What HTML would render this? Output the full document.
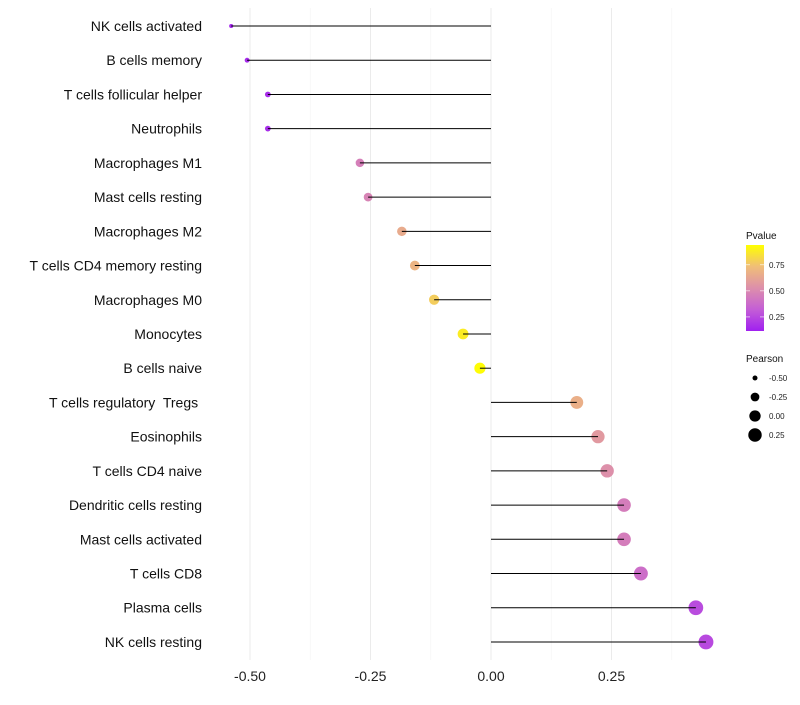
<!DOCTYPE html>
<html><head><meta charset="utf-8"><style>
body{margin:0;background:#fff;font-family:"Liberation Sans",sans-serif}
text{white-space:pre}
</style></head><body>
<svg id="chart" width="800" height="700" xmlns="http://www.w3.org/2000/svg" font-family="Liberation Sans, sans-serif"></svg>
<script>
const categories=["NK cells activated","B cells memory","T cells follicular helper","Neutrophils","Macrophages M1","Mast cells resting","Macrophages M2","T cells CD4 memory resting","Macrophages M0","Monocytes","B cells naive","T cells regulatory  Tregs ","Eosinophils","T cells CD4 naive","Dendritic cells resting","Mast cells activated","T cells CD8","Plasma cells","NK cells resting"];
const pearson=[-0.539,-0.506,-0.463,-0.463,-0.272,-0.255,-0.185,-0.158,-0.118,-0.058,-0.023,0.178,0.222,0.241,0.276,0.276,0.311,0.425,0.446];
const pvalues=[0.14,0.15,0.16,0.16,0.46,0.48,0.65,0.69,0.78,0.88,0.93,0.67,0.57,0.53,0.45,0.45,0.39,0.26,0.25];
const xTicks=[-0.5,-0.25,0,0.25];
const xTickLabels=["-0.50","-0.25","0.00","0.25"];
const legendP=[0.25,0.5,0.75];
const legendSizes=[-0.5,-0.25,0,0.25];
const svg=document.getElementById('chart');
const NS="http://www.w3.org/2000/svg";
function el(t,a,p){const e=document.createElementNS(NS,t);for(const k in a)e.setAttribute(k,a[k]);(p||svg).appendChild(e);return e;}
const x=v=>491+v*482;
const y=i=>26+i*34.22;
const r=v=>Math.sqrt(Math.max(0.3,(v+0.62)*52));
function lerp(a,b,t){return a.map((c,i)=>Math.round(c+(b[i]-c)*t));}
const stops=[[0,[160,32,240]],[0.25,[196,94,214]],[0.5,[221,143,171]],[0.75,[240,190,120]],[1,[255,255,0]]];
function col(p){let t=(p-0.115)/(0.94-0.115);t=Math.max(0,Math.min(1,t));for(let i=1;i<stops.length;i++){if(t<=stops[i][0]){const u=(t-stops[i-1][0])/(stops[i][0]-stops[i-1][0]);const c=lerp(stops[i-1][1],stops[i][1],u);return `rgb(${c[0]},${c[1]},${c[2]})`;}}return 'rgb(255,255,0)';}
[-0.375,-0.125,0.125,0.375].forEach(v=>{const g=el('line',{x1:x(v),x2:x(v),y1:8,y2:660,stroke:'#f4f4f4','stroke-width':0.6});});
xTicks.forEach((v,i)=>{const g=el('line',{x1:x(v),x2:x(v),y1:8,y2:660,stroke:'#ebebeb','stroke-width':1});
const t=el('text',{x:x(v),y:681,'text-anchor':'middle','font-size':14,fill:'#222'});t.textContent=xTickLabels[i];});
categories.forEach((c,i)=>{
const t=el('text',{x:202,y:y(i)+5,'text-anchor':'end','font-size':14,fill:'#111'});t.textContent=c;
const d=el('circle',{cx:x(pearson[i]),cy:y(i),r:r(pearson[i]),fill:col(pvalues[i])});
const l=el('line',{x1:x(0),x2:x(pearson[i]),y1:y(i),y2:y(i),stroke:'#000','stroke-width':1});
});
let t=el('text',{x:746,y:239,'font-size':10,fill:'#111'});t.textContent='Pvalue';
const defs=el('defs',{});const lg=el('linearGradient',{id:'pg',x1:0,y1:1,x2:0,y2:0},defs);
stops.forEach(s=>el('stop',{offset:s[0],'stop-color':`rgb(${s[1].join(',')})`},lg));
const cb=el('rect',{x:746,y:245,width:18,height:86,fill:'url(#pg)'});
legendP.forEach(p=>{const yy=331-(p-0.115)/(0.94-0.115)*86;
el('line',{x1:746,x2:750,y1:yy,y2:yy,stroke:'#fff','stroke-width':0.6});el('line',{x1:760,x2:764,y1:yy,y2:yy,stroke:'#fff','stroke-width':0.6});
const tt=el('text',{x:769,y:yy+3,'font-size':8,fill:'#222'});tt.textContent=p.toFixed(2);});
t=el('text',{x:746,y:362,'font-size':10,fill:'#111'});t.textContent='Pearson';
legendSizes.forEach((v,i)=>{const yy=378+i*19;const c=el('circle',{cx:755,cy:yy,r:r(v),fill:'#000'});
const tt=el('text',{x:769,y:yy+3,'font-size':8,fill:'#222'});tt.textContent=v.toFixed(2);});
</script>
</body></html>
